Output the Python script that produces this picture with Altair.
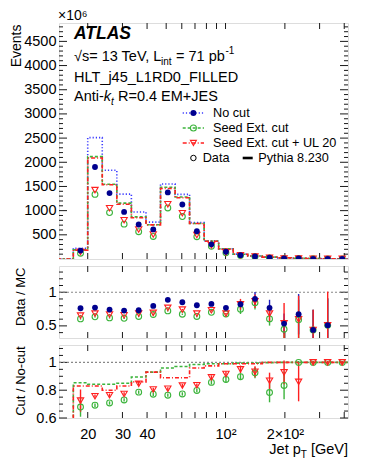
import math
import altair as alt
import pandas as pd

FONT = "Liberation Sans"

# ---------------- data ----------------
# bin edges in GeV (first bin is the empty one below ~17 GeV)
bin_edges = [14.0, 16.9, 20.0, 23.7, 28.1, 33.3, 39.5, 46.8, 55.5, 65.7, 77.9,
             92.3, 109.4, 129.6, 153.6, 182.0, 215.7, 255.6, 302.9, 358.9, 425.3]

# MC (Pythia 8.230) histograms, Events x10^6 (one value per bin incl. empty first bin)
mc_nocut = [0, 221, 2510, 1834, 1342, 973, 762, 1550, 1336, 752, 375, 212, 100, 62, 38, 24, 15, 10, 6, 4]
mc_seed = [0, 189, 2116, 1546, 1155, 871, 709, 1484, 1283, 735, 369, 209, 99, 62, 38, 24, 15, 10, 6, 4]
mc_seed_ul = [0, 184, 2090, 1536, 1131, 852, 706, 1459, 1266, 733, 366, 207, 99, 61, 38, 24, 15, 10, 6, 4]

# data points (19 filled bins)
data_nocut = [174, 1902, 1363, 973, 713, 611, 1377, 1127, 574, 304, 150, 80, 54, 29, 13, 10, 4, 3, 2]
data_seed = [119, 1336, 959, 721, 565, 467, 1055, 877, 461, 262, 130, 72, 50, 23, 11, 10, 4, 3, 2]
data_seed_ul = [147, 1424, 1049, 803, 611, 508, 1131, 947, 496, 283, 137, 76, 51, 26, 12, 9, 4, 3, 2]

# Data / MC
dmc_nocut = [0.762, 0.772, 0.742, 0.728, 0.732, 0.797, 0.887, 0.851, 0.807, 0.827, 0.768, 0.821, 0.902, 0.768, 0.534, 0.673, 0.44, 0.509, None]
dmc_seed = [0.604, 0.634, 0.619, 0.613, 0.640, 0.668, 0.723, 0.673, 0.640, 0.702, 0.678, 0.747, 0.842, 0.604, 0.450, 0.590, 0.44, 0.509, None]
dmc_seed_ul = [0.653, 0.683, 0.668, 0.658, 0.683, 0.693, 0.768, 0.742, 0.683, 0.732, 0.683, 0.821, 0.866, 0.683, 0.540, 0.598, 0.44, 0.509, None]
dmc_err_nocut = [0.01] * 11 + [0.05, 0.10, 0.12, 0.15, 0.30, 0.30, 0.40, 0.0]
dmc_err_seed = [0.01] * 11 + [0.07, 0.10, 0.10, 0.15, 0.30, 0.30, 0.40, 0.0]
dmc_err_seed_ul = [0.01] * 11 + [0.08, 0.10, 0.12, 0.30, 0.35, 0.30, 0.50, 0.0]

# Cut / No-cut : data points
cut_seed = [0.679, 0.692, 0.708, 0.730, 0.786, 0.771, 0.764, 0.773, 0.798, 0.856, 0.877, 0.897, 0.925, 0.783, 0.834, 1.0, 1.0, 1.0, 1.0]
cut_seed_ul = [0.725, 0.757, 0.764, 0.773, 0.846, 0.805, 0.810, 0.833, 0.836, 0.892, 0.916, 0.950, 0.933, 0.868, 0.928, 0.860, 1.0, 1.0, 1.0]
cut_err_seed = [0.07] + [0.012] * 8 + [0.015, 0.02, 0.024, 0.04, 0.07, 0.10, 0.01, 0.01, 0.01, 0.01]
cut_err_seed_ul = [0.08] + [0.012] * 8 + [0.015, 0.02, 0.027, 0.04, 0.058, 0.085, 0.14, 0.01, 0.01, 0.01]
# Cut / No-cut : MC steps (incl. empty first bin)
mcr_seed = [0, 0.853, 0.843, 0.843, 0.850, 0.895, 0.930, 0.960, 0.970, 0.985, 0.990, 0.990, 0.995, 0.995, 0.998, 1.0, 1.0, 1.0, 1.0, 1.0]
mcr_seed_ul = [0, 0.830, 0.830, 0.800, 0.830, 0.860, 0.930, 0.890, 0.890, 0.960, 0.975, 0.990, 0.990, 0.990, 1.0, 1.0, 1.0, 1.0, 1.0, 1.0]

x_ticks = [20, 30, 40, 50, 60, 70, 80, 90, 100, 200, 300, 400]
x_labels = [20, 30, 40, 100, 200]
top_major = [500, 1000, 1500, 2000, 2500, 3000, 3500, 4000, 4500]
top_minor = [v for v in range(100, 4900, 100) if v % 500]
mid_major = [0.5, 1.0]
mid_minor = [0.4, 0.6, 0.7, 0.8, 0.9, 1.1, 1.2, 1.3]
bot_major = [0.6, 0.8, 1.0]
bot_minor = [0.65, 0.7, 0.75, 0.85, 0.9, 0.95, 1.05, 1.1]

# ---------------- styles ----------------
W, H1, H2, H3 = 289, 236, 72, 73
X_DOMAIN = [14.3, 418]
BLUE_PT = "#00008f"
BLUE_LN = "#3b3bff"
GREEN = "#3cb43c"
RED = "#ff2020"
FRAME = "#1a1a1a"
DOT = [1.2, 2]
DASH = [3, 2]
DASHDOT = [4, 2, 1, 2]

centers = [math.sqrt(bin_edges[i + 1] * bin_edges[i + 2]) for i in range(19)]


def xscale():
    return alt.Scale(type="log", domain=X_DOMAIN, nice=False, zero=False)


def yaxis(values, title, title_x, title_size, label_expr, pad):
    return alt.Axis(values=values, labelExpr=label_expr, ticks=False, tickSize=0,
                    domain=False, grid=False, labelPadding=pad, labelFontSize=14.5,
                    labelFont=FONT, labelColor="black", labelFlush=False,
                    labelOverlap=False, title=title, titleFont=FONT,
                    titleFontSize=title_size, titleFontWeight="normal",
                    titleColor="black", titleAngle=270, titleAlign="right",
                    titleBaseline="middle", titleX=title_x, titleY=1)


def panel_layers(H, ysc, yax, xax, major, minor):
    layers = []
    for vals, ln in ((major, 8), (minor, 4)):
        df = pd.DataFrame({"v": vals})
        for x0, x1 in ((0, ln), (W - ln, W)):
            layers.append(alt.Chart(df).mark_rule(color=FRAME, strokeWidth=1).encode(
                y=alt.Y("v:Q", scale=ysc, axis=yax), x=alt.value(x0), x2=alt.value(x1)))
    dfx = pd.DataFrame({"v": x_ticks})
    for y0, y1 in ((H - 6, H), (0, 6)):
        layers.append(alt.Chart(dfx).mark_rule(color=FRAME, strokeWidth=1).encode(
            x=alt.X("v:Q", scale=xscale(), axis=xax), y=alt.value(y0), y2=alt.value(y1)))
    return layers


def step(vals, color, dash, ysc, yax, xax, width=1.6):
    df = pd.DataFrame({"x": bin_edges, "y": list(vals) + [vals[-1]]})
    return alt.Chart(df).mark_line(interpolate="step-after", color=color, strokeDash=dash,
                                   strokeWidth=width, clip=True).encode(
        x=alt.X("x:Q", scale=xscale(), axis=xax), y=alt.Y("y:Q", scale=ysc, axis=yax))


def frame(vals, err):
    rows = []
    for i, v in enumerate(vals):
        if v is None:
            continue
        e = err[i] if err else 0
        rows.append({"x": centers[i], "y": v, "lo": v - e, "hi": v + e})
    return pd.DataFrame(rows)


def bars(vals, err, color, ysc, yax, xax):
    return alt.Chart(frame(vals, err)).mark_rule(color=color, strokeWidth=1.4, clip=True).encode(
        x=alt.X("x:Q", scale=xscale(), axis=xax), y=alt.Y("lo:Q", scale=ysc, axis=yax), y2="hi:Q")


def marks(vals, shape, color, filled, ysc, yax, xax, size=34):
    return alt.Chart(frame(vals, None)).mark_point(shape=shape, color=color, filled=filled, size=size,
                                                   strokeWidth=1.1, opacity=1, clip=True).encode(
        x=alt.X("x:Q", scale=xscale(), axis=xax), y=alt.Y("y:Q", scale=ysc, axis=yax))


def txt(s, x, y, size=14.5, align="left", baseline="alphabetic", **kw):
    return alt.Chart(pd.DataFrame({"t": [s]})).mark_text(
        align=align, baseline=baseline, fontSize=size, font=FONT, color="black", **kw).encode(
        text="t:N", x=alt.value(x), y=alt.value(y))


# ---------------- top panel ----------------
ys1 = alt.Scale(domain=[0, 4880], nice=False, zero=False)
ya1 = yaxis(top_major, "Events", -43, 14, "format(datum.value, 'd')", 3)
top_layers = panel_layers(H1, ys1, ya1, None, top_major, top_minor)
top_layers += [
    step(mc_nocut, BLUE_LN, DOT, ys1, ya1, None),
    step(mc_seed, GREEN, DASH, ys1, ya1, None),
    step(mc_seed_ul, RED, DASHDOT, ys1, ya1, None),
    marks(data_seed, "circle", GREEN, False, ys1, ya1, None),
    marks(data_seed_ul, "triangle-down", RED, False, ys1, ya1, None, size=40),
    marks(data_nocut, "circle", BLUE_PT, True, ys1, ya1, None),
]
top_layers += [
    txt("×10⁶", -1, -3, size=14),
    txt("ATLAS", 15, 16, size=17.5, fontWeight="bold", fontStyle="italic"),
    txt("√s= 13 TeV, L", 15, 37.5),
    txt("int", 102, 41.5, size=10),
    txt("= 71 pb", 117, 37.5),
    txt("-1", 166.5, 31, size=10),
    txt("HLT_j45_L1RD0_FILLED", 15, 59),
    txt("Anti-", 15, 78),
    txt("k", 44.8, 78, fontStyle="italic"),
    txt("t", 52.1, 82, size=10, fontStyle="italic"),
    txt("R=0.4 EM+JES", 59, 78),
]
legend_rows = [
    ("No cut", BLUE_LN, DOT, "circle", BLUE_PT, True, 90),
    ("Seed Ext. cut", GREEN, DASH, "circle", GREEN, False, 105),
    ("Seed Ext. cut + UL 20", RED, DASHDOT, "triangle-down", RED, False, 120),
]
for label, lc, dash, shp, pc, filled, yy in legend_rows:
    dfl = pd.DataFrame({"t": [label]})
    top_layers.append(alt.Chart(dfl).mark_rule(color=lc, strokeDash=dash, strokeWidth=1.6).encode(
        x=alt.value(123.7), x2=alt.value(145), y=alt.value(yy)))
    top_layers.append(alt.Chart(dfl).mark_point(shape=shp, color=pc, filled=filled, size=36,
                                                strokeWidth=1.1, opacity=1).encode(
        x=alt.value(134.4), y=alt.value(yy)))
    top_layers.append(txt(label, 154, yy, size=12.7, baseline="middle"))
dfd = pd.DataFrame({"t": ["Data"]})
top_layers.append(alt.Chart(dfd).mark_point(shape="circle", color="black", filled=False, size=30,
                                            strokeWidth=1, opacity=1).encode(
    x=alt.value(134.4), y=alt.value(135)))
top_layers.append(txt("Data", 143.7, 135, size=12.7, baseline="middle"))
top_layers.append(alt.Chart(dfd).mark_rule(color="black", strokeWidth=2.6).encode(
    x=alt.value(183.7), x2=alt.value(193.7), y=alt.value(135)))
top_layers.append(txt("Pythia 8.230", 199.3, 135, size=12.7, baseline="middle"))

top = alt.layer(*top_layers).properties(width=W, height=H1)

# ---------------- middle panel ----------------
ys2 = alt.Scale(domain=[0.32, 1.39], nice=False, zero=False)
ya2 = yaxis(mid_major, "Data / MC", -39, 13,
            "datum.value == 1 ? '1' : format(datum.value, '.1f')", 3)
mid_layers = panel_layers(H2, ys2, ya2, None, mid_major, mid_minor)
mid_layers.append(alt.Chart(pd.DataFrame({"v": [1.0]})).mark_rule(
    color="#888888", strokeDash=[2, 2], strokeWidth=1.2).encode(
    y=alt.Y("v:Q", scale=ys2, axis=ya2), x=alt.value(0), x2=alt.value(W)))
mid_layers += [
    bars(dmc_seed, dmc_err_seed, GREEN, ys2, ya2, None),
    bars(dmc_nocut, dmc_err_nocut, "#2020c0", ys2, ya2, None),
    bars(dmc_seed_ul, dmc_err_seed_ul, RED, ys2, ya2, None),
    marks(dmc_seed, "circle", GREEN, False, ys2, ya2, None),
    marks(dmc_seed_ul, "triangle-down", RED, False, ys2, ya2, None, size=40),
    marks(dmc_nocut, "circle", BLUE_PT, True, ys2, ya2, None),
]
mid = alt.layer(*mid_layers).properties(width=W, height=H2)

# ---------------- bottom panel ----------------
xa3 = alt.Axis(values=x_labels,
               labelExpr="datum.value == 100 ? '10²' : datum.value == 200 ? '2×10²' : format(datum.value, 'd')",
               ticks=False, tickSize=0, domain=False, grid=False, labelPadding=9,
               labelFontSize=14.5, labelFont=FONT, labelColor="black", labelFlush=False,
               labelOverlap=False, title=None)
ys3 = alt.Scale(domain=[0.6, 1.125], nice=False, zero=False)
ya3 = yaxis(bot_major, "Cut / No-cut", -39, 13,
            "datum.value == 1 ? '1' : format(datum.value, '.1f')", 3)
bot_layers = panel_layers(H3, ys3, ya3, xa3, bot_major, bot_minor)
bot_layers.append(alt.Chart(pd.DataFrame({"v": [1.0]})).mark_rule(
    color="#888888", strokeDash=[2, 2], strokeWidth=1.2).encode(
    y=alt.Y("v:Q", scale=ys3, axis=ya3), x=alt.value(0), x2=alt.value(W)))
bot_layers += [
    step(mcr_seed, GREEN, DASH, ys3, ya3, xa3),
    step(mcr_seed_ul, RED, DASHDOT, ys3, ya3, xa3),
    bars(cut_seed, cut_err_seed, GREEN, ys3, ya3, xa3),
    bars(cut_seed_ul, cut_err_seed_ul, RED, ys3, ya3, xa3),
    marks(cut_seed, "circle", GREEN, False, ys3, ya3, xa3),
    marks(cut_seed_ul, "triangle-down", RED, False, ys3, ya3, xa3, size=40),
    txt("[GeV]", W, H3 + 35.6, align="right"),
    txt("T", W - 41.1, H3 + 39.6, size=10, align="right"),
    txt("Jet p", W - 47.2, H3 + 35.6, align="right"),
]
bot = alt.layer(*bot_layers).properties(width=W, height=H3)

chart = (
    alt.vconcat(top, mid, bot, spacing=5)
    .resolve_scale(x="independent", y="independent")
    .properties(padding=0)
    .configure_view(stroke=FRAME, strokeWidth=1.5)
    .configure(font=FONT)
)

chart.save("out.html", embed_options={"renderer": "svg", "actions": False})
